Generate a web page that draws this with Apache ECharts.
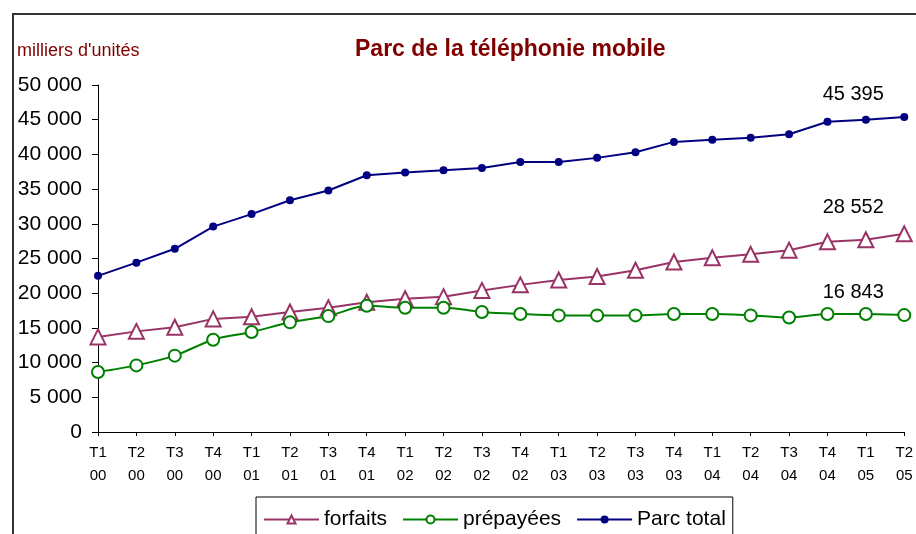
<!DOCTYPE html>
<html>
<head>
<meta charset="utf-8">
<script src="https://cdn.jsdelivr.net/npm/echarts@6/dist/echarts.min.js"></script>
<style>
  html, body { margin: 0; padding: 0; background: #fff; }
  #chart { width: 916px; height: 534px; }
</style>
</head>
<body>
<div id="chart"></div>
<script>
const categories = [
  'T1\n00', 'T2\n00', 'T3\n00', 'T4\n00',
  'T1\n01', 'T2\n01', 'T3\n01', 'T4\n01',
  'T1\n02', 'T2\n02', 'T3\n02', 'T4\n02',
  'T1\n03', 'T2\n03', 'T3\n03', 'T4\n03',
  'T1\n04', 'T2\n04', 'T3\n04', 'T4\n04',
  'T1\n05', 'T2\n05'
];

// milliers d'unités
const forfaits = [13700, 14500, 15100, 16300, 16600, 17300, 17900, 18700, 19200, 19500, 20400,
  21200, 21900, 22400, 23300, 24500, 25100, 25600, 26200, 27400, 27700, 28552];
const prepayees = [8650, 9600, 11000, 13300, 14400, 15800, 16700, 18200, 17900, 17900, 17300,
  17000, 16800, 16800, 16800, 17000, 17000, 16800, 16500, 17000, 17000, 16843];
const parcTotal = [22500, 24400, 26400, 29600, 31400, 33400, 34800, 37000, 37400, 37700, 38050,
  38900, 38900, 39500, 40300, 41800, 42100, 42400, 42900, 44700, 45000, 45395];

const FONT = 'Liberation Sans, Arial, sans-serif';

// 50000 -> "50 000"
const fmt = v => String(v).replace(/\B(?=(\d{3})+(?!\d))/g, ' ');

// étiquette seulement sur le dernier point
const lastLabel = (offsetY) => ({
  show: true,
  position: 'top',
  offset: [-51, offsetY],
  color: '#000',
  fontSize: 20,
  fontFamily: FONT,
  formatter: p => (p.dataIndex === categories.length - 1 ? fmt(p.value) : '')
});

const chart = echarts.init(document.getElementById('chart'));

const option = {
  backgroundColor: '#fff',
  animation: false,
  title: [
    {
      text: 'Parc de la téléphonie mobile',
      left: 355,
      top: 38,
      padding: 0,
      textStyle: { color: '#800000', fontSize: 23, fontWeight: 'bold', fontFamily: FONT }
    },
    {
      text: "milliers d'unités",
      left: 17,
      top: 42,
      padding: 0,
      textStyle: { color: '#800000', fontSize: 18, fontWeight: 'normal', fontFamily: FONT }
    }
  ],
  graphic: [
    {
      type: 'rect',
      shape: { x: 13, y: 14, width: 1000, height: 1000 },
      style: { fill: 'none', stroke: '#333', lineWidth: 2 },
      z: -1
    }
  ],
  legend: {
    left: 256,
    top: 497,
    padding: [12, 7, 30, 7],
    itemGap: 15,
    itemWidth: 55,
    itemHeight: 10,
    borderColor: '#000',
    borderWidth: 1,
    textStyle: { color: '#000', fontSize: 21, fontFamily: FONT },
    data: ['forfaits', 'prépayées', 'Parc total']
  },
  grid: {
    left: 98,
    right: 8,
    top: 85,
    bottom: 102
  },
  xAxis: {
    type: 'category',
    data: categories,
    boundaryGap: false,
    axisLine: { lineStyle: { color: '#000', width: 1 } },
    axisTick: { show: true, length: 4, lineStyle: { color: '#000' } },
    axisLabel: {
      interval: 0,
      color: '#000',
      fontSize: 15,
      lineHeight: 23,
      margin: 9,
      fontFamily: FONT
    }
  },
  yAxis: {
    type: 'value',
    min: 0,
    max: 50000,
    interval: 5000,
    axisLine: { show: true, lineStyle: { color: '#000', width: 1 } },
    axisTick: { show: true, length: 6, lineStyle: { color: '#000' } },
    splitLine: { show: false },
    axisLabel: {
      color: '#000',
      fontSize: 21,
      margin: 16,
      fontFamily: FONT,
      formatter: fmt
    }
  },
  series: [
    {
      name: 'forfaits',
      type: 'line',
      data: forfaits,
      symbol: 'triangle',
      symbolSize: 15,
      showAllSymbol: true,
      color: '#993366',
      lineStyle: { color: '#993366', width: 2 },
      itemStyle: { color: '#fff', borderColor: '#993366', borderWidth: 2 },
      label: lastLabel(-3)
    },
    {
      name: 'prépayées',
      type: 'line',
      data: prepayees,
      smooth: 0.3,
      symbol: 'circle',
      symbolSize: 12,
      showAllSymbol: true,
      color: '#008000',
      lineStyle: { color: '#008000', width: 2 },
      itemStyle: { color: '#fff', borderColor: '#008000', borderWidth: 2 },
      label: lastLabel(-1)
    },
    {
      name: 'Parc total',
      type: 'line',
      data: parcTotal,
      symbol: 'circle',
      symbolSize: 8,
      showAllSymbol: true,
      color: '#000080',
      lineStyle: { color: '#000080', width: 2 },
      itemStyle: { color: '#000080' },
      label: lastLabel(-3)
    }
  ]
};

chart.setOption(option);
window.addEventListener('resize', () => chart.resize());
</script>
</body>
</html>
